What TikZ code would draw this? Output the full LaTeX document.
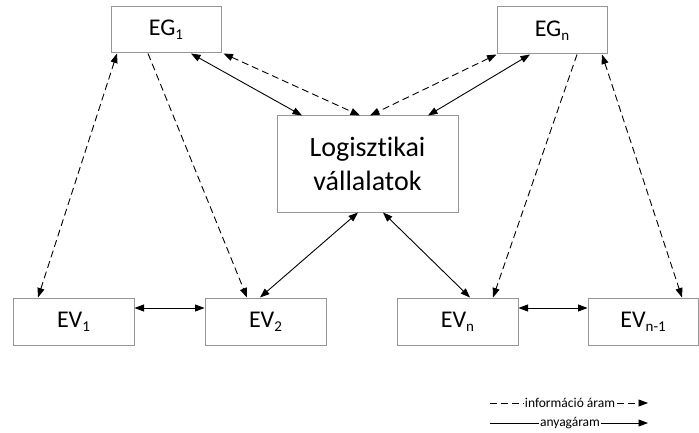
\documentclass[tikz,border=0pt]{standalone}
\usepackage{fontspec}
\setmainfont[Ligatures=CommonOff]{Carlito}
\usetikzlibrary{arrows.meta}
\newcommand{\subtxt}[1]{\raisebox{-4pt}{\fontsize{15}{15}\selectfont #1}}
\tikzset{
  boxnode/.style={draw={rgb,255:red,150;green,150;blue,150}, line width=1pt, inner sep=0pt,
    minimum height=47pt, font=\fontsize{24}{28}\selectfont},
  conn/.style={line width=0.9pt, black},
  dconn/.style={conn, dash pattern=on 7pt off 4pt},
  tip/.tip={Triangle[length=9.5pt,width=7pt]},
  legtext/.style={font=\fontsize{13.5}{15}\selectfont, inner sep=1.5pt}
}
\begin{document}
\begin{tikzpicture}[x=1pt,y=-1pt]
\path[use as bounding box, fill=white] (0,0) rectangle (699,433);

\node[boxnode, minimum width=110pt, minimum height=46pt] (EG1) at (166,30) {EG\subtxt{1}};
\node[boxnode, minimum width=110pt] (EGn) at (552,30.5) {EG\subtxt{n}};
\node[boxnode, minimum width=181pt, minimum height=96pt, align=center,
      font=\fontsize{28}{34}\selectfont] (LOG) at (367.5,164) {Logisztikai\\vállalatok};
\node[boxnode, minimum width=121pt] (EV1) at (73.5,321.5) {EV\subtxt{1}};
\node[boxnode, minimum width=121pt] (EV2) at (265.5,321.5) {EV\subtxt{2}};
\node[boxnode, minimum width=121pt] (EVn) at (457.5,321.5) {EV\subtxt{n}};
\node[boxnode, minimum width=110pt] (EVm) at (643,321.5) {EV\subtxt{n-1}};

% top connections
\draw[conn, tip-tip] ([xshift=25pt]EG1.south) -- ([xshift=-65.5pt]LOG.north);
\draw[dconn, tip-tip] ([xshift=2pt]EG1.south east) -- ([xshift=-7.5pt]LOG.north);
\draw[dconn, tip-tip] ([xshift=0pt]EGn.south west) -- ([xshift=2.5pt]LOG.north);
\draw[conn, tip-tip] ([xshift=-22pt]EGn.south) -- ([xshift=60.5pt]LOG.north);

% EG to EV
\draw[dconn, tip-tip] ([xshift=-49pt]EG1.south) -- ([xshift=-35.5pt]EV1.north);
\draw[dconn, -tip] ([xshift=-18pt]EG1.south) -- ([xshift=-18.5pt]EV2.north);
\draw[dconn, -tip] ([xshift=25pt]EGn.south) -- ([xshift=35.5pt]EVn.north);
\draw[dconn, tip-tip] ([xshift=50pt]EGn.south) -- ([xshift=39pt]EVm.north);

% LOG to EV
\draw[conn, tip-tip] ([xshift=-9.5pt]LOG.south) -- ([xshift=-5.5pt]EV2.north);
\draw[conn, tip-tip] ([xshift=15.5pt]LOG.south) -- ([xshift=12.5pt]EVn.north);

% horizontal
\draw[conn, tip-tip] ([yshift=13.5pt]EV1.east) -- ([yshift=13.5pt]EV2.west);
\draw[conn, tip-tip] ([yshift=13.5pt]EVn.east) -- ([yshift=13.5pt]EVm.west);

% legend
\node[legtext] (L1) at (570,403) {információ áram};
\coordinate (L1a) at (490,403);
\coordinate (L1b) at (648,403);
\draw[dconn] (L1a) -- (L1.west);
\draw[dconn, -tip] (L1.east) -- (L1b);
\node[legtext, inner sep=0.5pt] (L2) at (570,423) {anyagáram};
\coordinate (L2a) at (490,423);
\coordinate (L2b) at (648,423);
\draw[conn] (L2a) -- (L2.west);
\draw[conn, -tip] (L2.east) -- (L2b);
\end{tikzpicture}
\end{document}
